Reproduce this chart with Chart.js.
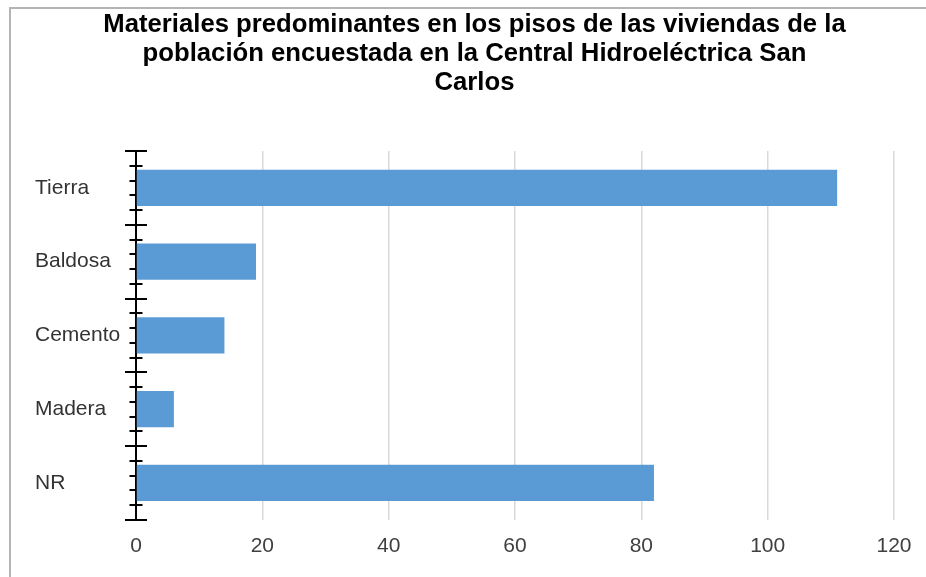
<!DOCTYPE html>
<html>
<head>
<meta charset="utf-8">
<script src="https://cdn.jsdelivr.net/npm/chart.js@4"></script>
<style>
  html, body { margin:0; padding:0; background:#fff; }
  #wrap { position:relative; width:926px; height:577px; overflow:hidden; }
  #frame { position:absolute; left:9px; top:7px; width:940px; height:600px; border-left:2px solid #b4b4b4; border-top:2px solid #b4b4b4; }
  #c { position:absolute; left:0; top:0; }
</style>
</head>
<body>
<div id="wrap">
  <div id="frame"></div>
  <canvas id="c" width="926" height="577"></canvas>
</div>
<script>
const titleLines = ['Materiales predominantes en los pisos de las viviendas de la', 'población encuestada en la Central Hidroeléctrica San', 'Carlos'];
const categories = ['Tierra', 'Baldosa', 'Cemento', 'Madera', 'NR'];
const values = [111, 19, 14, 6, 82];
const xMin = 0, xMax = 120, xStep = 20;

// tick marks on the category axis: long at the boundaries, short at fifths
const axisTicks = {
  id: 'axisTicks',
  afterLayout(chart){
    // title sits a little right of the canvas centre in the original
    chart.titleBlock.left += 10;
    chart.titleBlock.right += 10;
  },
  beforeDatasetsDraw(chart){
    const y = chart.scales.y, ctx = chart.ctx, x0 = chart.chartArea.left;
    ctx.save();
    ctx.strokeStyle = '#000';
    ctx.lineWidth = 2;
    for(let i = 0; i < categories.length; i++){
      for(let k = 0; k <= 5; k++){
        if(k === 5 && i < categories.length - 1) continue;
        const py = Math.round(y.getPixelForValue(i - 0.5 + k * 0.2));
        const half = (k === 0 || k === 5) ? 11 : 6.5;
        ctx.beginPath();
        ctx.moveTo(x0 - half, py);
        ctx.lineTo(x0 + half, py);
        ctx.stroke();
      }
    }
    ctx.restore();
  }
};

new Chart(document.getElementById('c').getContext('2d'), {
  type:'bar',
  data:{ labels:categories, datasets:[{ data:values, backgroundColor:'#5b9bd5', borderWidth:0, barPercentage:0.49, categoryPercentage:1 }] },
  options:{
    indexAxis:'y', responsive:false, animation:false,
    layout:{ padding:{ left:35, right:32, top:0, bottom:4 } },
    plugins:{
      legend:{ display:false }, tooltip:{ enabled:false },
      title:{ display:true, text:titleLines, color:'#000', font:{ family:'Liberation Sans, Arial', size:25.7, weight:'bold', lineHeight:'29px' }, padding:{ top:10, bottom:54 } }
    },
    scales:{
      x:{ min:xMin, max:xMax,
          ticks:{ stepSize:xStep, color:'#404040', padding:14, font:{ family:'Liberation Sans, Arial', size:21 } },
          grid:{ color:'#d9d9d9', lineWidth:1.5, drawTicks:false },
          border:{ display:false } },
      y:{ ticks:{ color:'#333', crossAlign:'far', font:{ family:'Liberation Sans, Arial', size:21 } },
          grid:{ display:false },
          border:{ display:true, color:'#000', width:2 },
          afterFit(s){ s.width = 101; } }
    }
  },
  plugins:[axisTicks]
});
</script>
</body>
</html>
